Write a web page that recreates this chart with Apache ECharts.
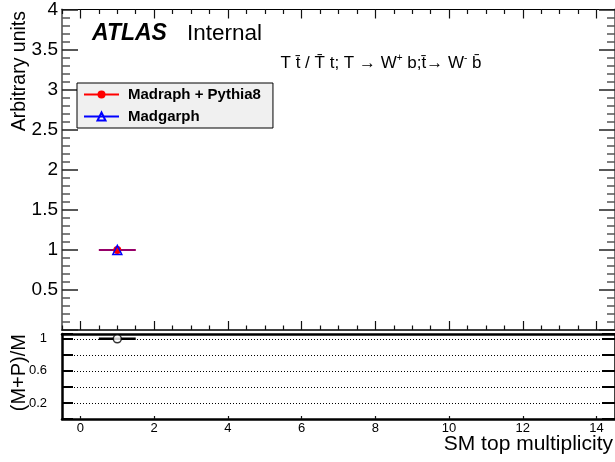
<!DOCTYPE html>
<html>
<head>
<meta charset="utf-8">
<script src="https://cdn.jsdelivr.net/npm/echarts@6/dist/echarts.min.js"></script>
<style>
  html, body { margin: 0; padding: 0; background: #fff; }
  #chart { width: 615px; height: 462px; }
</style>
</head>
<body>
<div id="chart"></div>
<script>
// SM top multiplicity, normalised: only one bin is filled
const multiplicity   = [1];
const binHalfWidth   = [0.5];
const madgraphPythia = [1.0];   // Madraph + Pythia8
const madgraph       = [1.0];   // Madgarph
const ratio          = [1.0];   // (M+P)/M

// axis tick positions and labels
const xMajorTicks     = [0, 2, 4, 6, 8, 10, 12, 14];
const topYTickLabels  = ['0.5', '1', '1.5', '2', '2.5', '3', '3.5', '4'];
const ratioTickLabels = ['0.2', '0.6', '1'];

const xMinorTicks = [];
for (let v = -0.5; v <= 14.5; v += 0.5) {
  if (xMajorTicks.indexOf(v) < 0) xMinorTicks.push(v);
}

const FONT = '"Liberation Sans", Arial, Helvetica, sans-serif';

function pointsOf(ys) {
  return multiplicity.map((x, i) => [x, ys[i], binHalfWidth[i]]);
}

function labelFilter(list) {
  return function (v) {
    const s = String(+Number(v).toFixed(2));
    return list.indexOf(s) >= 0 ? s : '';
  };
}

// horizontal bin-width bars drawn through the axis scales
function binBar(color, width, opacity) {
  return function (params, api) {
    const x = api.value(0), y = api.value(1), e = api.value(2);
    const p1 = api.coord([x - e, y]);
    const p2 = api.coord([x + e, y]);
    return {
      type: 'line',
      shape: { x1: p1[0], y1: p1[1], x2: p2[0], y2: p2[1] },
      style: { stroke: color, lineWidth: width, opacity: opacity }
    };
  };
}

function xAxisDef(grid, pos, ticks, len, opts) {
  return Object.assign({
    type: 'value', gridIndex: grid, position: pos,
    min: -0.5, max: 14.5,
    axisLine: { show: false, onZero: false },
    axisTick: { show: true, inside: true, length: len, customValues: ticks,
                lineStyle: { color: '#111', width: 1.2 } },
    axisLabel: { show: false },
    splitLine: { show: false }
  }, opts || {});
}

function yAxisDef(grid, pos, opts) {
  return Object.assign({
    type: 'value', gridIndex: grid, position: pos,
    splitLine: { show: false },
    axisLabel: { show: false }
  }, opts);
}

const chart = echarts.init(document.getElementById('chart'), null, { renderer: 'canvas' });

const topYLine  = { show: true, onZero: false, lineStyle: { color: '#777', width: 2 } };
const topYTick  = { show: true, inside: true, length: 16, lineStyle: { color: '#222', width: 1.5 } };
const topYMinor = { show: true, splitNumber: 5, length: 8, lineStyle: { color: '#555', width: 1.5 } };
const ratioLine = { show: true, onZero: false, lineStyle: { color: '#000', width: 2.5 } };

chart.setOption({
  animation: false,
  backgroundColor: '#fff',
  textStyle: { fontFamily: FONT },
  grid: [
    { left: 62, top: 8, width: 554, height: 322 },
    { left: 62, top: 334, width: 554, height: 85 }
  ],
  xAxis: [
    // upper pad
    xAxisDef(0, 'bottom', xMajorTicks, 9, { axisLine: { show: true, onZero: false, lineStyle: { color: '#000', width: 1.5 } } }),
    xAxisDef(0, 'bottom', xMinorTicks, 4.5),
    xAxisDef(0, 'top', xMajorTicks, 9, { axisLine: { show: true, onZero: false, lineStyle: { color: '#000', width: 1.2 } } }),
    xAxisDef(0, 'top', xMinorTicks, 4.5),
    // ratio pad
    xAxisDef(1, 'bottom', xMajorTicks, 3, {
      axisLine: ratioLine,
      axisLabel: { show: true, customValues: xMajorTicks, margin: 3,
                   fontSize: 13, color: '#000', fontFamily: FONT }
    }),
    xAxisDef(1, 'top', [], 0, { axisLine: ratioLine })
  ],
  yAxis: [
    yAxisDef(0, 'left', {
      min: 0, max: 4, interval: 0.5,
      axisLine: topYLine, axisTick: topYTick, minorTick: topYMinor,
      axisLabel: { show: true, formatter: labelFilter(topYTickLabels), fontSize: 19, margin: 4,
                   color: '#000', fontFamily: FONT, showMaxLabel: true }
    }),
    yAxisDef(0, 'right', {
      min: 0, max: 4, interval: 0.5,
      axisLine: topYLine, axisTick: topYTick, minorTick: topYMinor
    }),
    yAxisDef(1, 'left', {
      min: 0, max: 1.06, interval: 0.2,
      axisLine: ratioLine,
      axisTick: { show: true, inside: true, length: 11, lineStyle: { color: '#000', width: 2 } },
      axisLabel: { show: true, formatter: labelFilter(ratioTickLabels), fontSize: 13, margin: 15,
                   color: '#000', fontFamily: FONT },
      splitLine: { show: true, lineStyle: { color: '#000', width: 1, type: [1, 2] } }
    }),
    yAxisDef(1, 'right', {
      min: 0, max: 1.06, interval: 0.2,
      axisLine: ratioLine,
      axisTick: { show: true, inside: true, length: 13, lineStyle: { color: '#000', width: 2 } }
    })
  ],
  legend: {
    data: ['Madraph + Pythia8', 'Madgarph'],
    orient: 'vertical',
    left: 77, top: 83,
    itemWidth: 35, itemHeight: 10, itemGap: 7,
    padding: [4, 12, 4, 6],
    backgroundColor: '#f0f0f0',
    borderColor: '#000', borderWidth: 1, borderRadius: 0,
    selectedMode: false,
    textStyle: { fontFamily: FONT, fontWeight: 'bold', fontSize: 15, color: '#000',
                 padding: [0, 0, 0, 4] }
  },
  series: [
    {
      type: 'custom', xAxisIndex: 0, yAxisIndex: 0,
      encode: { x: 0, y: 1 },
      data: pointsOf(madgraphPythia),
      renderItem: binBar('#ff0000', 2, 1),
      z: 2
    },
    {
      type: 'custom', xAxisIndex: 0, yAxisIndex: 0,
      encode: { x: 0, y: 1 },
      data: pointsOf(madgraph),
      renderItem: binBar('#0000ff', 1.5, 0.55),
      z: 3
    },
    {
      name: 'Madraph + Pythia8',
      type: 'line', xAxisIndex: 0, yAxisIndex: 0,
      data: pointsOf(madgraphPythia).map(p => [p[0], p[1]]),
      symbol: 'circle', symbolSize: 8, showSymbol: true,
      itemStyle: { color: '#ff0000' },
      lineStyle: { color: '#ff0000', width: 1 },
      z: 4
    },
    {
      name: 'Madgarph',
      type: 'line', xAxisIndex: 0, yAxisIndex: 0,
      data: pointsOf(madgraph).map(p => [p[0], p[1]]),
      symbol: 'triangle', symbolSize: 9, showSymbol: true,
      itemStyle: { color: 'rgba(0,0,0,0)', borderColor: '#0000ff', borderWidth: 1.5 },
      lineStyle: { color: '#0000ff', width: 1 },
      z: 5
    },
    {
      type: 'custom', xAxisIndex: 4, yAxisIndex: 2,
      encode: { x: 0, y: 1 },
      data: pointsOf(ratio),
      renderItem: binBar('#000', 2.5, 1),
      z: 3
    },
    {
      type: 'scatter', xAxisIndex: 4, yAxisIndex: 2,
      data: pointsOf(ratio).map(p => [p[0], p[1]]),
      symbol: 'circle', symbolSize: 8,
      itemStyle: { color: '#fff', borderColor: '#000', borderWidth: 1.5 },
      z: 4
    }
  ],
  graphic: [
    {
      type: 'text', x: 20, y: 11, rotation: Math.PI / 2,
      style: { text: 'Arbitrary units', fontFamily: FONT, fontSize: 19.5,
               align: 'right', verticalAlign: 'middle', fill: '#000' }
    },
    {
      type: 'text', x: 19, y: 334, rotation: Math.PI / 2,
      style: { text: '(M+P)/M', fontFamily: FONT, fontSize: 20,
               align: 'right', verticalAlign: 'middle', fill: '#000' }
    },
    {
      type: 'text', x: 613, y: 444,
      style: { text: 'SM top multiplicity', fontFamily: FONT, fontSize: 21,
               align: 'right', verticalAlign: 'middle', fill: '#000' }
    },
    {
      type: 'text', x: 92, y: 34,
      style: { text: 'ATLAS', fontFamily: FONT, fontSize: 23, fontWeight: 'bold',
               fontStyle: 'italic', align: 'left', verticalAlign: 'middle', fill: '#000' }
    },
    {
      type: 'text', x: 187, y: 34,
      style: { text: 'Internal', fontFamily: FONT, fontSize: 22.5,
               align: 'left', verticalAlign: 'middle', fill: '#000' }
    },
    {
      type: 'text', x: 381, y: 63,
      style: {
        text: '{n|T t\u0304 / T\u0304 t; T \u2192 W}{s|+}{n| b;t\u0304\u2192 W}{s|-}{n| b\u0304}',
        align: 'center', verticalAlign: 'middle',
        rich: {
          n: { fontFamily: FONT, fontSize: 17, fill: '#000', color: '#000', lineHeight: 20 },
          s: { fontFamily: FONT, fontSize: 10, fill: '#000', color: '#000', verticalAlign: 'top', lineHeight: 20 }
        }
      }
    }
  ]
});
</script>
</body>
</html>
